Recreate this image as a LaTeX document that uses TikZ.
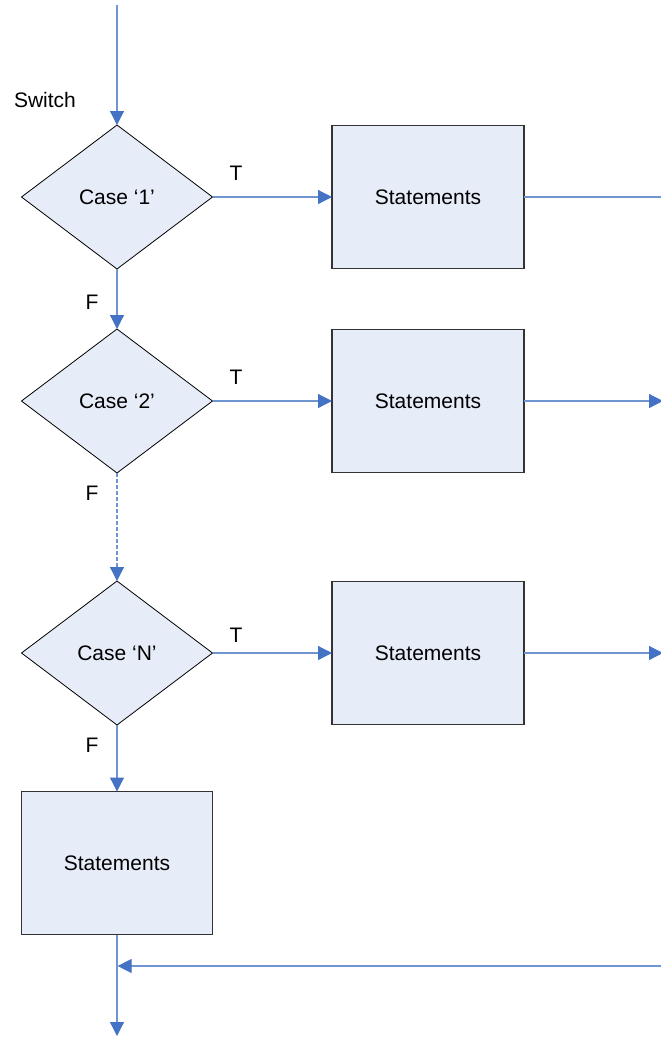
\documentclass[tikz,border=0pt]{standalone}
\usepackage{fontspec}
\setmainfont{Liberation Sans}
\usetikzlibrary{shapes.geometric,arrows.meta}
\definecolor{flowline}{RGB}{112,148,208}
\definecolor{flowtip}{RGB}{68,114,196}
\definecolor{flowfill}{RGB}{231,237,248}

\begin{document}
\begin{tikzpicture}[x=1pt, y=-1pt,
  every node/.style={font=\fontsize{21}{25}\selectfont, outer sep=0pt},
  casebox/.style={diamond, draw=black, line width=0.8pt, fill=flowfill, minimum width=191pt, minimum height=144pt, inner sep=0pt},
  stmtbox/.style={rectangle, draw=black!80, line width=1.1pt, fill=flowfill, minimum width=192pt, minimum height=143pt, inner sep=0pt},
  flow/.style={draw=flowline, line width=1.2pt, -{Triangle[length=14pt, width=14pt, color=flowtip]}},
  plain/.style={draw=flowline, line width=1.2pt}]
\useasboundingbox (0,0) rectangle (661,1037);

\coordinate (start) at (117,5);
\node (switch) at (45,100) {Switch};

\node[casebox] (case1) at (117,197) {Case `1'};
\node[stmtbox] (stmt1) at (428,197) {Statements};
\node (t1) at (236,173) {T};
\node (f1) at (92,302) {F};

\node[casebox] (case2) at (117,401) {Case `2'};
\node[stmtbox] (stmt2) at (428,401) {Statements};
\node (t2) at (236,377) {T};
\node (f2) at (92,493) {F};

\node[casebox] (caseN) at (117,653) {Case `N'};
\node[stmtbox] (stmtN) at (428,653) {Statements};
\node (tN) at (236,635) {T};
\node (fN) at (92,745) {F};

\node[stmtbox, minimum width=191pt] (default) at (117,863) {Statements};

\coordinate (out1) at (661,197);
\coordinate (out2) at (663,401);
\coordinate (outN) at (663,653);
\coordinate (back) at (661,966);
\coordinate (join) at (117,966);
\coordinate (finish) at (117,1036);

% main line down
\draw[flow] (start) -- (case1.north);
\draw[flow] (case1.south) -- (case2.north);
\draw[flow, dashed, dash pattern=on 4pt off 2pt] (case2.south) -- (caseN.north);
\draw[flow] (caseN.south) -- (default.north);
\draw[flow] (default.south) -- (finish);

% true branches
\draw[flow] (case1.east) -- (stmt1.west);
\draw[flow] (case2.east) -- (stmt2.west);
\draw[flow] (caseN.east) -- (stmtN.west);
\draw[plain] (stmt1.east) -- (out1);
\draw[flow] (stmt2.east) -- (out2);
\draw[flow] (stmtN.east) -- (outN);

% return line
\draw[flow] (back) -- ([xshift=0.6pt]join);
\end{tikzpicture}
\end{document}
